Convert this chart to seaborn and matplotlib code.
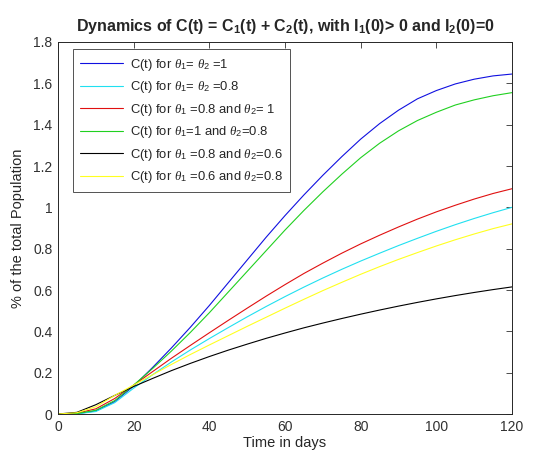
import matplotlib
matplotlib.use("Agg")
import matplotlib.pyplot as plt
import seaborn as sns
import numpy as np
import pandas as pd

t_days = [0, 5, 10, 15, 20, 25, 30, 35, 40, 45, 50, 55, 60, 65, 70, 75, 80, 85, 90, 95, 100, 105, 110, 115, 120]

c_11 = [0, 0.001, 0.015, 0.06, 0.135, 0.225, 0.32, 0.42, 0.525, 0.635, 0.745, 0.855, 0.96, 1.06, 1.155, 1.245, 1.33, 1.405, 1.47, 1.525, 1.565, 1.597, 1.62, 1.636, 1.645]
c_0808 = [0, 0.001, 0.012, 0.055, 0.125, 0.19, 0.252, 0.31, 0.365, 0.418, 0.47, 0.52, 0.568, 0.614, 0.658, 0.7, 0.74, 0.778, 0.815, 0.85, 0.884, 0.916, 0.946, 0.974, 1.0]
c_081 = [0, 0.004, 0.025, 0.075, 0.14, 0.205, 0.27, 0.332, 0.393, 0.453, 0.512, 0.57, 0.626, 0.68, 0.73, 0.778, 0.823, 0.865, 0.905, 0.943, 0.978, 1.01, 1.04, 1.067, 1.09]
c_108 = [0, 0.002, 0.018, 0.065, 0.14, 0.22, 0.305, 0.395, 0.49, 0.59, 0.69, 0.79, 0.89, 0.985, 1.075, 1.16, 1.24, 1.31, 1.37, 1.42, 1.46, 1.495, 1.52, 1.54, 1.555]
c_0806 = [0, 0.008, 0.045, 0.09, 0.133, 0.172, 0.21, 0.245, 0.278, 0.309, 0.338, 0.366, 0.392, 0.417, 0.44, 0.462, 0.483, 0.503, 0.522, 0.54, 0.557, 0.573, 0.588, 0.602, 0.615]
c_0608 = [0, 0.006, 0.035, 0.09, 0.14, 0.19, 0.24, 0.288, 0.334, 0.379, 0.424, 0.468, 0.512, 0.555, 0.597, 0.637, 0.676, 0.713, 0.748, 0.781, 0.813, 0.843, 0.871, 0.897, 0.92]

labels = [
    r"C(t) for $\theta_1$= $\theta_2$ =1",
    r"C(t) for $\theta_1$= $\theta_2$ =0.8",
    r"C(t) for $\theta_1$ =0.8 and $\theta_2$= 1",
    r"C(t) for $\theta_1$=1 and $\theta_2$=0.8",
    r"C(t) for $\theta_1$ =0.8 and $\theta_2$=0.6",
    r"C(t) for $\theta_1$ =0.6 and $\theta_2$=0.8",
]
series = [c_11, c_0808, c_081, c_108, c_0806, c_0608]
colors = ["#1010e0", "#20e0f0", "#e01010", "#20d020", "#000000", "#ffff20"]

x_ticks = [0, 20, 40, 60, 80, 100, 120]
y_ticks = [0, 0.2, 0.4, 0.6, 0.8, 1.0, 1.2, 1.4, 1.6, 1.8]
y_tick_labels = ["0", "0.2", "0.4", "0.6", "0.8", "1", "1.2", "1.4", "1.6", "1.8"]

sns.set_style("white")
plt.rcParams["font.family"] = ["Liberation Sans", "DejaVu Sans"]
plt.rcParams["mathtext.fontset"] = "custom"
plt.rcParams["mathtext.rm"] = "Liberation Sans"
plt.rcParams["mathtext.it"] = "Liberation Serif:italic"
plt.rcParams["mathtext.bf"] = "Liberation Sans:bold"

fig = plt.figure(figsize=(5.47, 4.61), dpi=100)
ax = fig.add_axes([58 / 547, 1 - 414 / 461, 454 / 547, 372 / 461])

for vals, lab, col in zip(series, labels, colors):
    df = pd.DataFrame({"t": t_days, "v": vals})
    sns.lineplot(data=df, x="t", y="v", color=col, label=lab, ax=ax, linewidth=0.8)

ax.set_xlim(0, 120)
ax.set_ylim(0, 1.8)
ax.set_xticks(x_ticks)
ax.set_yticks(y_ticks)
ax.set_yticklabels(y_tick_labels)
ax.tick_params(direction="in", length=4, width=0.6, top=True, right=True,
               labelsize=10, colors="#303030", pad=4)
for s in ax.spines.values():
    s.set_color("#262626")
    s.set_linewidth(0.7)

ax.set_xlabel("Time in days", fontsize=10.5, color="#262626", labelpad=2)
ax.set_ylabel("% of the total Population", fontsize=10.5, color="#262626", labelpad=6)
ax.set_title(r"Dynamics of C(t) = C$_\mathbf{1}$(t) + C$_\mathbf{2}$(t), with I$_\mathbf{1}$(0)> 0 and I$_\mathbf{2}$(0)=0",
             fontsize=11.5, fontweight="bold", pad=8)

leg = ax.legend(loc="upper left", bbox_to_anchor=(0.033, 0.98), borderaxespad=0,
                fontsize=9.4, frameon=True, fancybox=False, handlelength=3.3,
                handletextpad=0.5, labelspacing=0.5, borderpad=0.55)
leg.get_frame().set_edgecolor("#262626")
leg.get_frame().set_linewidth(0.7)

fig.savefig("out.png", dpi=100)
